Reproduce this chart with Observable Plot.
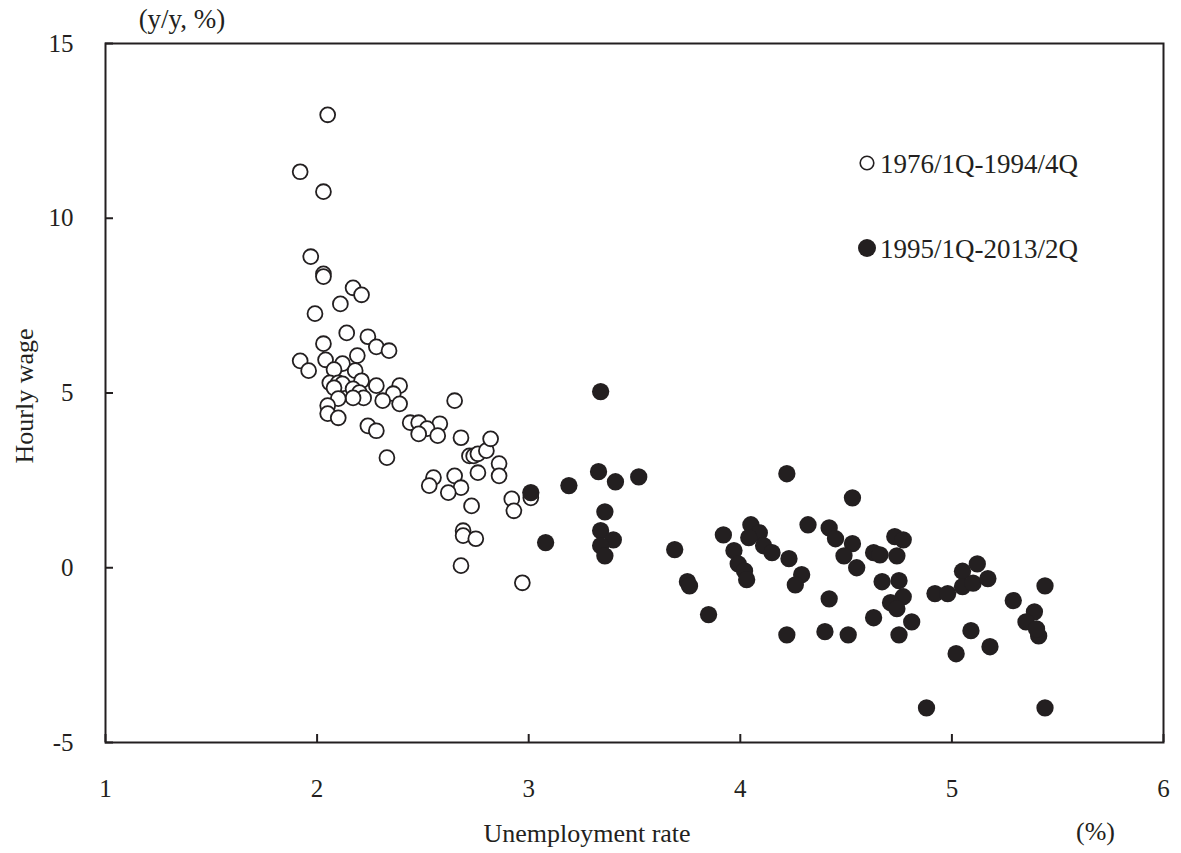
<!DOCTYPE html>
<html>
<head>
<meta charset="utf-8">
<script src="https://cdn.jsdelivr.net/npm/d3@7"></script>
<script src="https://cdn.jsdelivr.net/npm/@observablehq/plot@0.6"></script>
<style>
  body { margin: 0; background: #fff; }
  #wrap { width: 1181px; height: 853px; }
</style>
</head>
<body>
<div id="wrap"></div>
<script>
// 1976/1Q-1994/4Q : unemployment rate (%) and hourly wage (y/y, %)
const period1Unemp = [2.05,1.92,2.03,1.97,2.03,2.03,2.17,2.21,2.11,1.99,2.14,2.24,2.28,2.34,2.03,1.92,1.96,2.04,2.19,2.12,2.08,2.18,2.06,2.10,2.12,2.08,2.21,2.17,2.20,2.22,2.17,2.10,2.28,2.39,2.36,2.31,2.39,2.05,2.05,2.10,2.24,2.28,2.33,2.44,2.48,2.65,2.58,2.52,2.48,2.57,2.68,2.72,2.74,2.76,2.80,2.82,2.76,2.86,2.86,2.55,2.53,2.65,2.68,2.62,2.73,2.92,2.93,3.01,2.69,2.69,2.75,2.68,2.97];
const period1Wage  = [12.96,11.33,10.76,8.90,8.41,8.33,8.01,7.81,7.55,7.27,6.72,6.61,6.32,6.21,6.41,5.92,5.64,5.95,6.07,5.84,5.67,5.64,5.29,5.29,5.26,5.15,5.35,5.12,5.01,4.86,4.86,4.84,5.21,5.21,4.98,4.78,4.69,4.64,4.41,4.29,4.06,3.92,3.15,4.15,4.15,4.78,4.12,3.98,3.83,3.78,3.72,3.20,3.20,3.26,3.35,3.69,2.72,2.98,2.63,2.58,2.35,2.63,2.29,2.15,1.77,1.97,1.63,2.00,1.06,0.92,0.83,0.06,-0.43];

// 1995/1Q-2013/2Q
const period2Unemp = [3.34,3.33,3.41,3.52,3.36,3.34,3.40,3.34,3.36,3.01,3.19,3.08,3.69,3.75,3.76,3.85,3.92,3.97,3.99,4.02,4.03,4.05,4.09,4.04,4.11,4.15,4.22,4.23,4.29,4.26,4.32,4.42,4.45,4.53,4.49,4.55,4.42,4.40,4.51,4.22,4.53,4.63,4.66,4.73,4.77,4.74,4.67,4.75,4.77,4.71,4.74,4.63,4.81,4.75,4.92,4.98,5.05,5.05,5.12,5.10,5.17,5.44,5.29,5.39,5.35,5.41,5.40,5.09,5.18,5.02,4.88,5.44];
const period2Wage  = [5.04,2.75,2.46,2.60,1.60,1.06,0.80,0.63,0.34,2.15,2.35,0.72,0.52,-0.40,-0.52,-1.34,0.94,0.49,0.11,-0.09,-0.34,1.23,1.00,0.86,0.63,0.43,2.69,0.26,-0.20,-0.49,1.23,1.14,0.83,0.69,0.34,0.00,-0.89,-1.83,-1.92,-1.92,2.00,0.43,0.37,0.89,0.80,0.34,-0.40,-0.37,-0.83,-1.00,-1.17,-1.43,-1.55,-1.92,-0.74,-0.74,-0.10,-0.54,0.11,-0.44,-0.31,-0.52,-0.94,-1.26,-1.55,-1.95,-1.75,-1.80,-2.26,-2.46,-4.01,-4.01];

const xTicks = [1, 2, 3, 4, 5, 6];
const yTicks = [-5, 0, 5, 10, 15];
const seriesLabels = ["1976/1Q-1994/4Q", "1995/1Q-2013/2Q"];
const yUnitLabel = "(y/y, %)";
const yTitle = "Hourly wage";
const xTitle = "Unemployment rate";
const xUnitLabel = "(%)";

const period1 = period1Unemp.map((u, i) => ({u, w: period1Wage[i]}));
const period2 = period2Unemp.map((u, i) => ({u, w: period2Wage[i]}));

const ink = "#231f20";
const font = "'Liberation Serif', 'Times New Roman', serif";
const W = 1181, H = 853, mL = 105, mR = 18, mT = 43, mB = 111, tickLen = 8;

const chart = Plot.plot({
  width: W,
  height: H,
  marginLeft: mL,
  marginRight: mR,
  marginTop: mT,
  marginBottom: mB,
  style: {fontFamily: font, fontSize: "25px", color: ink, background: "white", overflow: "visible"},
  x: {domain: [1, 6], label: null},
  y: {domain: [-5, 15], label: null},
  marks: [
    Plot.axisX(xTicks, {tickSize: 0, tickPadding: 37, fill: ink, fontSize: 25, label: null, tickFormat: d => String(d)}),
    Plot.axisY(yTicks, {tickSize: 0, tickPadding: 32, fill: ink, fontSize: 25, label: null, tickFormat: d => String(d)}),
    // inward tick marks
    Plot.tickX(xTicks, {x: d => d, insetTop: H - mT - mB - tickLen, stroke: ink, strokeWidth: 2}),
    Plot.tickY(yTicks, {y: d => d, insetRight: W - mL - mR - tickLen, stroke: ink, strokeWidth: 2}),
    Plot.frame({stroke: ink, strokeWidth: 2}),
    Plot.dot(period1, {x: "u", y: "w", r: 7.45, stroke: ink, strokeWidth: 1.8, fill: "white"}),
    Plot.dot(period2, {x: "u", y: "w", r: 8.65, fill: ink, stroke: "none"})
  ]
});

document.getElementById("wrap").appendChild(chart);

// annotations and legend
const svg = d3.select(chart);
const g = svg.append("g").attr("font-family", font).attr("fill", ink);

g.append("text").attr("x", 182).attr("y", 28).attr("text-anchor", "middle")
  .attr("font-size", 27).text(yUnitLabel);
g.append("text").attr("transform", "translate(33,396) rotate(-90)").attr("text-anchor", "middle")
  .attr("font-size", 26).text(yTitle);
g.append("text").attr("x", 587).attr("y", 842).attr("text-anchor", "middle")
  .attr("font-size", 26).text(xTitle);
g.append("text").attr("x", 1076).attr("y", 840).attr("text-anchor", "start")
  .attr("font-size", 26).text(xUnitLabel);

// legend
g.append("circle").attr("cx", 867).attr("cy", 163).attr("r", 6.8)
  .attr("fill", "white").attr("stroke", ink).attr("stroke-width", 1.6);
g.append("text").attr("x", 880).attr("y", 173).attr("text-anchor", "start")
  .attr("font-size", 27).text(seriesLabels[0]);
g.append("circle").attr("cx", 867).attr("cy", 248).attr("r", 9).attr("fill", ink);
g.append("text").attr("x", 880).attr("y", 258).attr("text-anchor", "start")
  .attr("font-size", 27).text(seriesLabels[1]);
</script>
</body>
</html>
